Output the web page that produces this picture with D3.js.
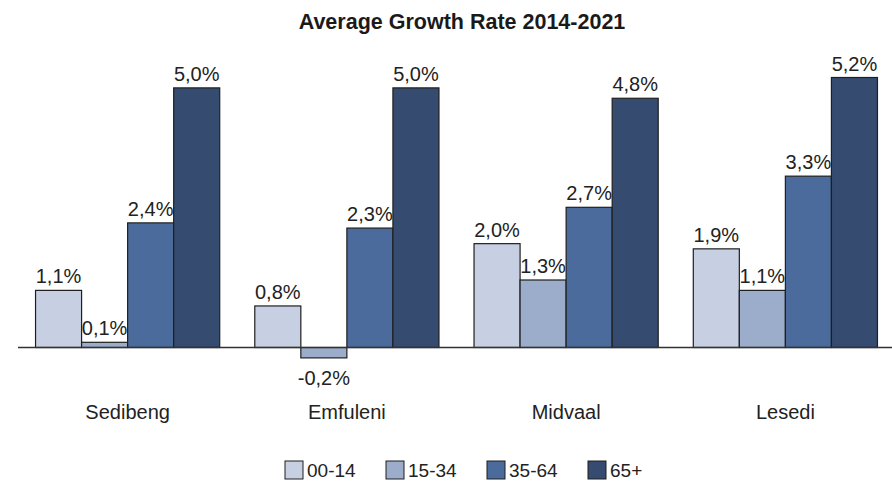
<!DOCTYPE html>
<html>
<head>
<meta charset="utf-8">
<script src="https://cdn.jsdelivr.net/npm/d3@7"></script>
<style>
  html, body { margin: 0; padding: 0; background: #fff; }
  svg { display: block; font-family: "Liberation Sans", Arial, sans-serif; }
</style>
</head>
<body>
<svg id="chart" width="892" height="492"></svg>
<script>
// Municipalities and age bands
const categories = ["Sedibeng", "Emfuleni", "Midvaal", "Lesedi"];
const ageGroups = ["00-14", "15-34", "35-64", "65+"];

// Average annual growth rate (%) per age band, one array per band
const values0014 = [1.1, 0.8, 2.0, 1.9];
const values1534 = [0.1, -0.2, 1.3, 1.1];
const values3564 = [2.4, 2.3, 2.7, 3.3];
const values65p  = [5.0, 5.0, 4.8, 5.2];

const seriesValues = [values0014, values1534, values3564, values65p];
const colors = ["#c7cfe2", "#9cadcb", "#4b6b9c", "#354b70"];
const titleText = "Average Growth Rate 2014-2021";

const svg = d3.select("#chart");
const W = 892, H = 492;

const x0 = d3.scaleBand().domain(categories).range([18, 895])
  .paddingInner(0.16).paddingOuter(0.08);
const x1 = d3.scaleBand().domain(ageGroups).range([0, x0.bandwidth()]).padding(0);
const y = d3.scaleLinear().domain([0, 5.2]).range([347.5, 77.5]);

// decimal comma, plain hyphen for negatives
const fmt = v => d3.format(".1f")(v).replace(".", ",").replace("\u2212", "-") + "%";

// title
svg.append("text")
  .attr("x", 462).attr("y", 29)
  .attr("text-anchor", "middle")
  .attr("font-weight", "bold")
  .attr("font-size", 21.5)
  .attr("fill", "#1a1a1a")
  .text(titleText);

// bars and value labels
const rows = [];
categories.forEach((c, ci) => {
  ageGroups.forEach((g, gi) => {
    rows.push({ cat: c, group: g, gi, value: seriesValues[gi][ci] });
  });
});

const bars = svg.append("g");
bars.selectAll("rect").data(rows).join("rect")
  .attr("x", d => x0(d.cat) + x1(d.group))
  .attr("y", d => Math.min(y(d.value), y(0)))
  .attr("width", x1.bandwidth())
  .attr("height", d => Math.abs(y(d.value) - y(0)))
  .attr("fill", d => colors[d.gi])
  .attr("stroke", "#1f1f1f")
  .attr("stroke-width", 1.2);

svg.append("g").selectAll("text").data(rows).join("text")
  .attr("x", d => x0(d.cat) + x1(d.group) + x1.bandwidth() / 2)
  .attr("y", d => d.value >= 0 ? y(d.value) - 7 : y(d.value) + 27)
  .attr("text-anchor", "middle")
  .attr("font-size", 20)
  .attr("fill", "#222")
  .text(d => fmt(d.value));

// category axis along the zero line
const axis = svg.append("g").attr("transform", `translate(0,${y(0)})`);
axis.append("line")
  .attr("x1", 18).attr("x2", W)
  .attr("stroke", "#333").attr("stroke-width", 1.5);
axis.selectAll("text").data(categories).join("text")
  .attr("x", d => x0(d) + x0.bandwidth() / 2)
  .attr("y", 71)
  .attr("text-anchor", "middle")
  .attr("font-size", 20)
  .attr("fill", "#222")
  .text(d => d);

// legend
const legend = svg.append("g").attr("transform", "translate(285,461)");
const item = legend.selectAll("g").data(ageGroups).join("g")
  .attr("transform", (d, i) => `translate(${i * 101},0)`);
item.append("rect")
  .attr("width", 18).attr("height", 18)
  .attr("fill", (d, i) => colors[i])
  .attr("stroke", "#1f1f1f").attr("stroke-width", 1);
item.append("text")
  .attr("x", 22).attr("y", 16)
  .attr("font-size", 19)
  .attr("fill", "#222")
  .text(d => d);
</script>
</body>
</html>
